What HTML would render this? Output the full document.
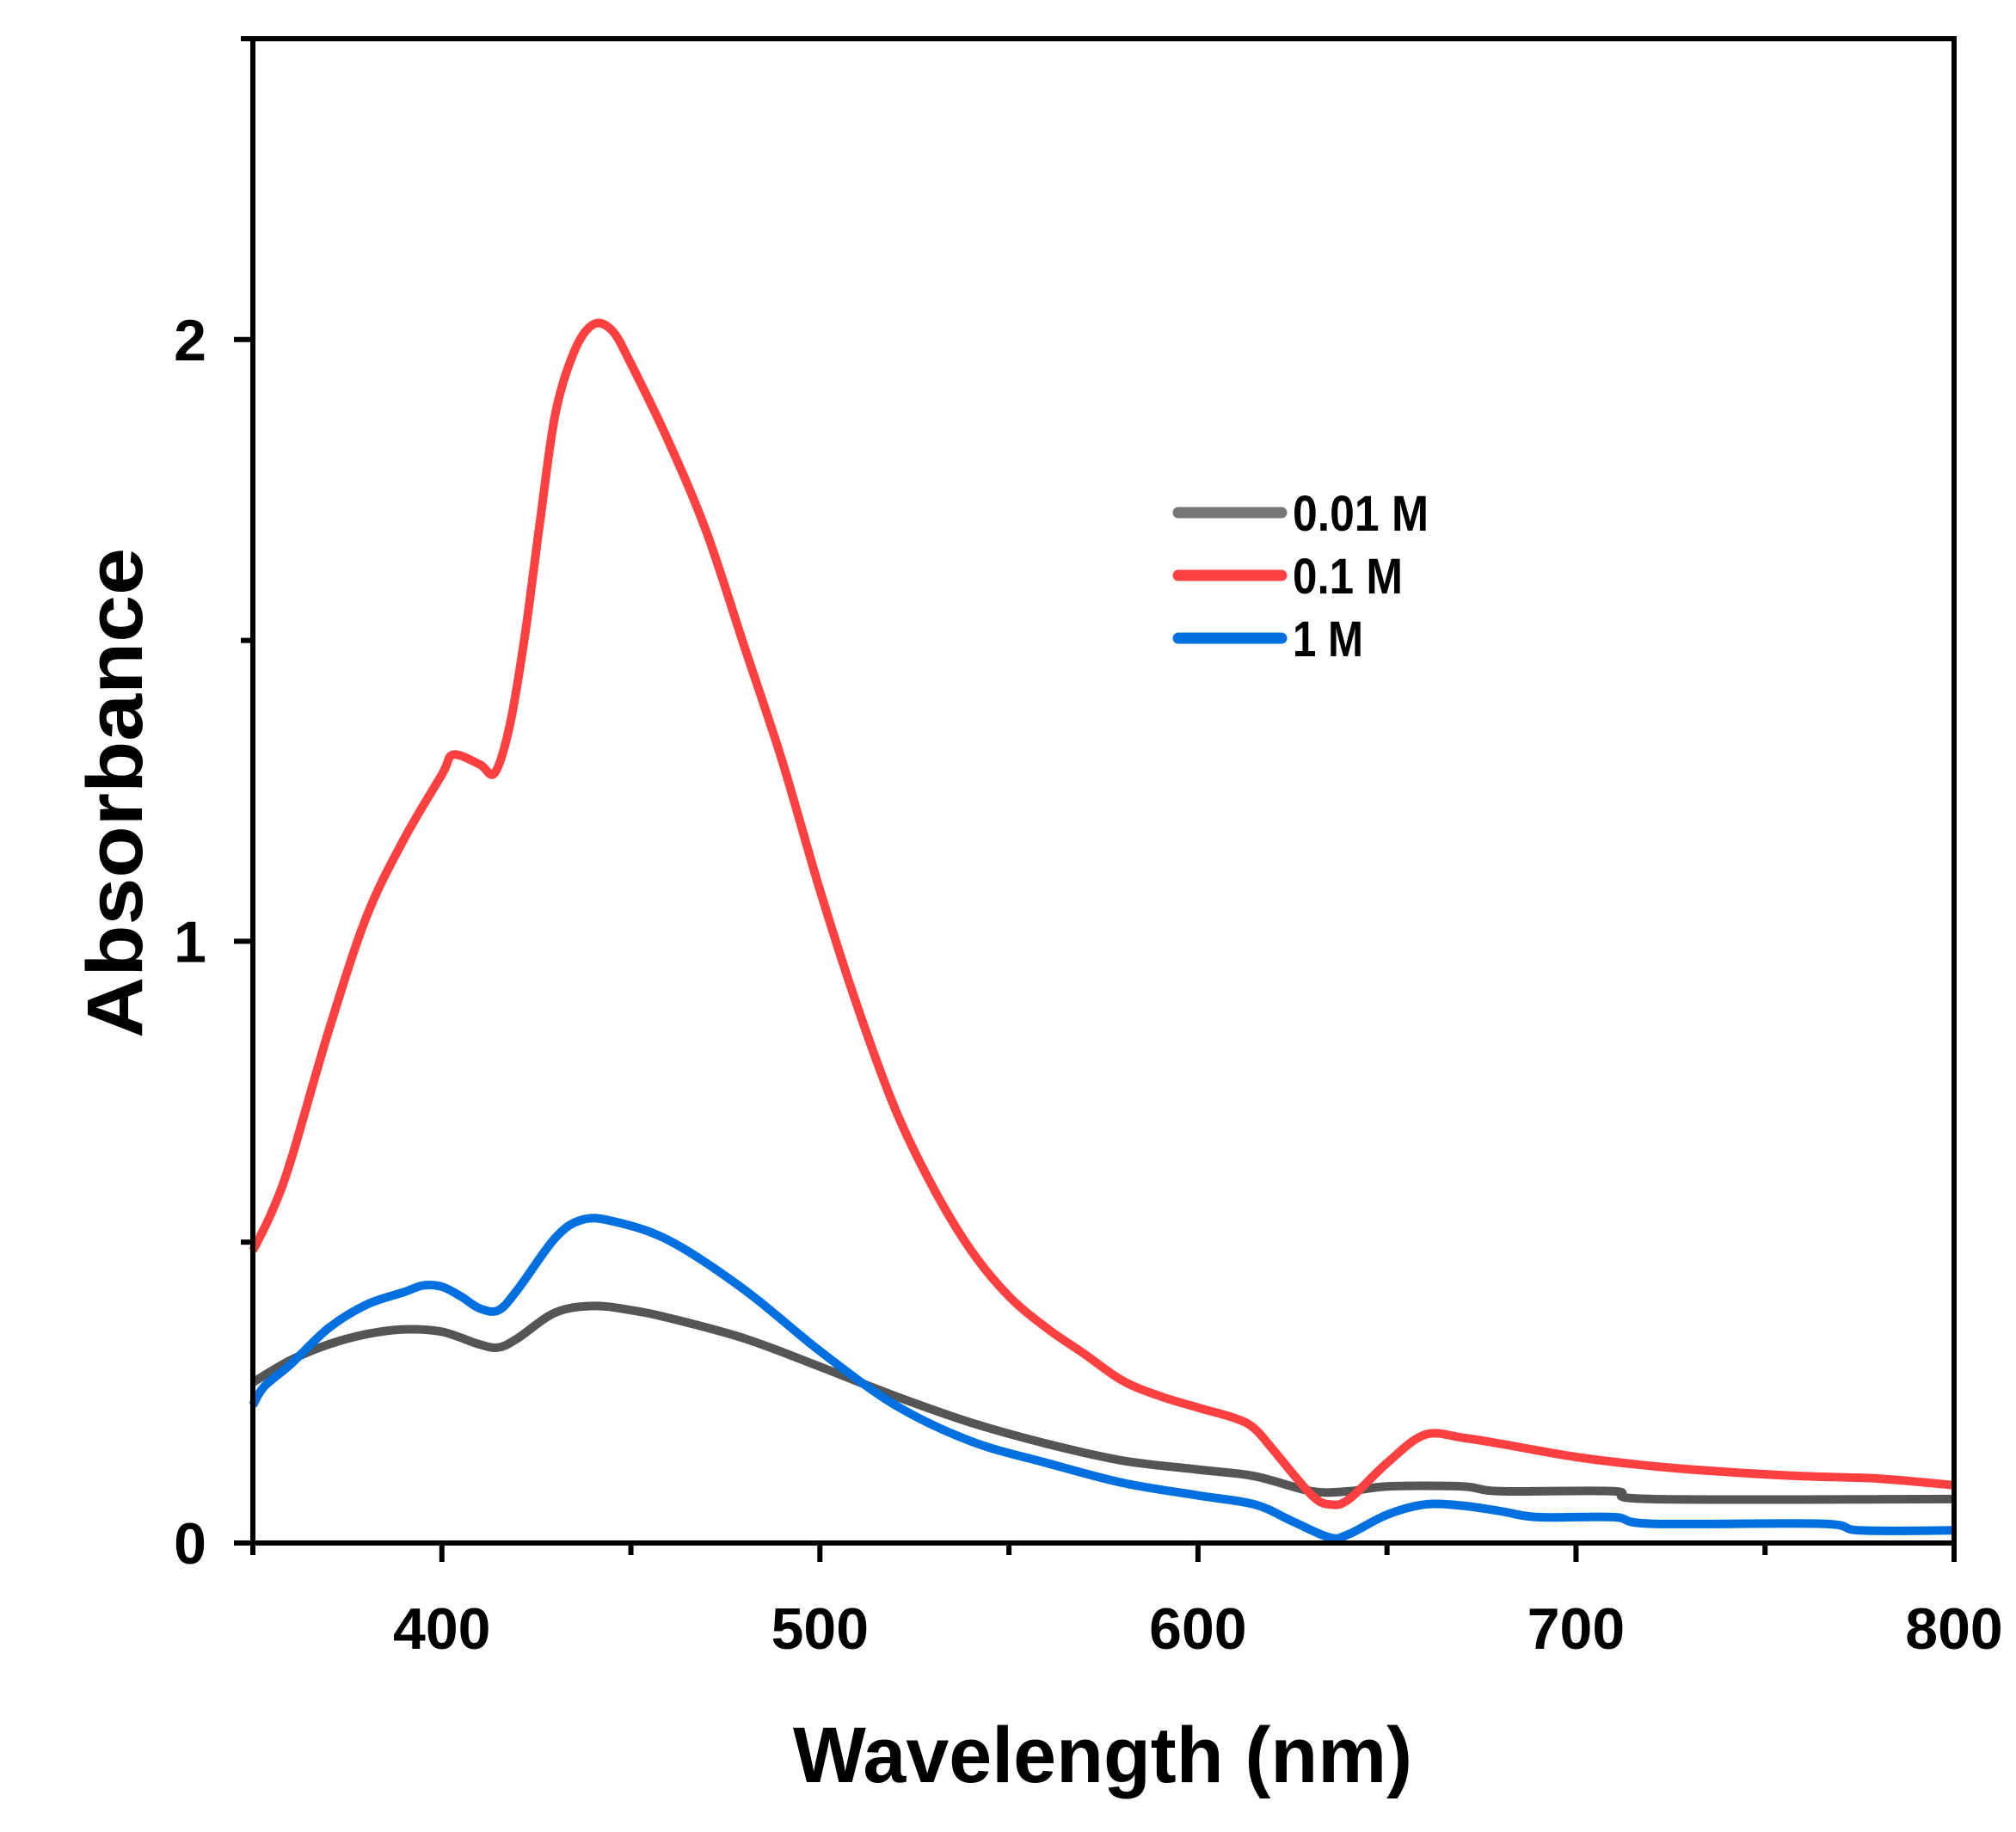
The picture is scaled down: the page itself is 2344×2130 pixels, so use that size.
<!DOCTYPE html>
<html><head><meta charset="utf-8"><style>
html,body{margin:0;padding:0;background:#fff}
svg{display:block}
text{font-family:"Liberation Sans",sans-serif;font-weight:bold;fill:#000}
</style></head><body>
<svg id="chart" width="2344" height="2130" viewBox="0 0 2344 2130" xmlns="http://www.w3.org/2000/svg">
<g id="series"></g>
<rect x="294" y="45" width="1978" height="1749" fill="none" stroke="#000" stroke-width="6"/>
<g id="axes"></g>
<text x="1282" y="2072" font-size="92" text-anchor="middle" textLength="720" lengthAdjust="spacingAndGlyphs">Wavelength (nm)</text>
<text transform="translate(165,922) rotate(-90)" font-size="92" text-anchor="middle" textLength="570" lengthAdjust="spacingAndGlyphs">Absorbance</text>
<g>
<line x1="1370" y1="596" x2="1490" y2="596" stroke="#777" stroke-width="13" stroke-linecap="round"/>
<text x="1503" y="617" font-size="58" textLength="158" lengthAdjust="spacingAndGlyphs">0.01 M</text>
<line x1="1370" y1="669" x2="1490" y2="669" stroke="#ff4040" stroke-width="13" stroke-linecap="round"/>
<text x="1503" y="690" font-size="58" textLength="128" lengthAdjust="spacingAndGlyphs">0.1 M</text>
<line x1="1370" y1="742" x2="1490" y2="742" stroke="#0070e0" stroke-width="13" stroke-linecap="round"/>
<text x="1503" y="763" font-size="58" textLength="82" lengthAdjust="spacingAndGlyphs">1 M</text>
</g>
</svg>
<script>
const redX=[350,355,360,370,380,390,400,403,410,414,418,422,426,430,435,440,445,450,460,470,480,490,500,510,520,530,540,550,560,570,580,590,600,610,615,620,630,635,640,650,660,670,680,700,720,740,760,780,800];
const redY=[0.486,0.55,0.635,0.85,1.04,1.17,1.277,1.31,1.294,1.28,1.36,1.51,1.70,1.876,1.98,2.025,2.015,1.96,1.83,1.68,1.49,1.30,1.085,0.89,0.72,0.59,0.486,0.41,0.357,0.314,0.27,0.244,0.225,0.207,0.19,0.154,0.08,0.064,0.073,0.133,0.18,0.175,0.165,0.143,0.128,0.118,0.111,0.107,0.096];
const greyX=[350,360,370,380,390,400,410,415,420,430,440,450,460,480,500,520,540,560,580,600,615,630,640,650,670,680,710,720,800];
const greyY=[0.267,0.304,0.33,0.347,0.355,0.351,0.33,0.325,0.34,0.383,0.394,0.387,0.374,0.34,0.293,0.244,0.20,0.165,0.137,0.122,0.111,0.086,0.086,0.094,0.094,0.086,0.086,0.073,0.073];
const blueX=[350,353,360,370,380,390,395,400,405,410,415,420,430,437,445,460,480,500,520,540,560,580,600,615,625,635,640,650,660,670,680,690,710,720,765,775,800];
const blueY=[0.229,0.26,0.297,0.357,0.396,0.417,0.428,0.426,0.41,0.39,0.387,0.421,0.507,0.537,0.535,0.503,0.421,0.319,0.229,0.169,0.133,0.10,0.079,0.064,0.036,0.009,0.015,0.047,0.064,0.062,0.053,0.043,0.043,0.032,0.032,0.021,0.021];
const xTicks=[400,500,600,700,800];
const xMinor=[350,450,550,650,750];
const yTicks=[0,1,2];
const yMinor=[0.5,1.5,2.5];
const X0=294,X1=2272,Y0=1794,Y1=45,xmin=350,xmax=800,ymin=0,ymax=2.5;
const sx=v=>X0+(v-xmin)/(xmax-xmin)*(X1-X0);
const sy=v=>Y0-(v-ymin)/(ymax-ymin)*(Y0-Y1);
const NS="http://www.w3.org/2000/svg";
const sg=document.getElementById('series');
function line(xs,ys,color,name){
  const P=xs.map((x,i)=>[sx(x),sy(ys[i])]);
  let d='M'+P[0][0].toFixed(1)+','+P[0][1].toFixed(1);
  for(let i=0;i<P.length-1;i++){
    const p0=P[Math.max(0,i-1)],p1=P[i],p2=P[i+1],p3=P[Math.min(P.length-1,i+2)];
    const c1=[p1[0]+(p2[0]-p0[0])/6,p1[1]+(p2[1]-p0[1])/6];
    const c2=[p2[0]-(p3[0]-p1[0])/6,p2[1]-(p3[1]-p1[1])/6];
    d+='C'+c1.map(v=>v.toFixed(1)).join(',')+' '+c2.map(v=>v.toFixed(1)).join(',')+' '+p2.map(v=>v.toFixed(1)).join(',');
  }
  const p=document.createElementNS(NS,'path');
  p.setAttribute('d',d);
  p.setAttribute('fill','none');p.setAttribute('stroke',color);p.setAttribute('stroke-width','10');
  p.setAttribute('stroke-linejoin','round');
  
  
  sg.appendChild(p);
}
line(greyX,greyY,'#555','series-0.01M');
line(blueX,blueY,'#0070e0','series-1M');
line(redX,redY,'#ff4040','series-0.1M');
const ax=document.getElementById('axes');
function mk(tag,attrs){const e=document.createElementNS(NS,tag);for(const k in attrs)e.setAttribute(k,attrs[k]);ax.appendChild(e);return e;}
xTicks.forEach(v=>{
  const t=mk('line',{x1:sx(v),x2:sx(v),y1:Y0,y2:Y0+22,stroke:'#000','stroke-width':6});
  
  
  const l=mk('text',{x:sx(v),y:1917,'font-size':68,'text-anchor':'middle'});
  l.textContent=v;
  
  
});
xMinor.forEach(v=>{
  const t=mk('line',{x1:sx(v),x2:sx(v),y1:Y0,y2:Y0+14,stroke:'#000','stroke-width':6});
  
  
});
yTicks.forEach(v=>{
  const t=mk('line',{x1:X0-22,x2:X0,y1:sy(v),y2:sy(v),stroke:'#000','stroke-width':6});
  
  
  const l=mk('text',{x:240,y:sy(v)+24,'font-size':68,'text-anchor':'end'});
  l.textContent=v;
  
  
});
yMinor.forEach(v=>{
  const t=mk('line',{x1:X0-14,x2:X0,y1:sy(v),y2:sy(v),stroke:'#000','stroke-width':6});
  
  
});
</script>
</body></html>
